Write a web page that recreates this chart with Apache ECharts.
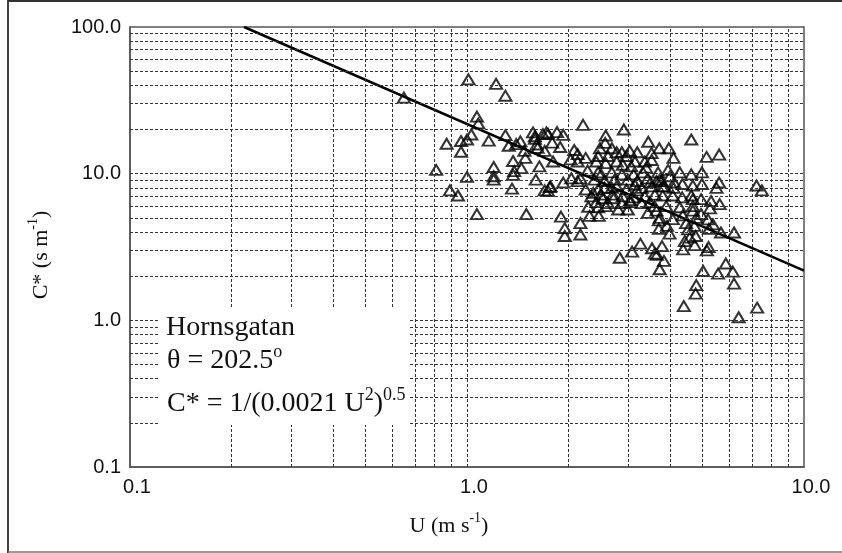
<!DOCTYPE html>
<html>
<head>
<meta charset="utf-8">
<script src="https://cdn.jsdelivr.net/npm/echarts@6/dist/echarts.min.js"></script>
<style>
html, body { margin: 0; padding: 0; background: #fff; }
#chart { width: 842px; height: 553px; }
</style>
</head>
<body>
<div id="chart"></div>
<script>
// wind speed U (m/s) and C* (s/m)
const windSpeed = [
  0.65, 1.01, 1.22, 1.30, 1.07, 1.08, 0.81, 0.87, 0.89, 0.94,
  0.96, 0.96, 1.00, 1.00, 1.03, 1.07, 1.16, 1.20, 1.20, 1.20,
  1.33, 1.40, 1.44, 1.48, 1.49, 1.57, 1.59, 1.68, 1.72, 1.62,
  1.70, 1.37, 1.38, 1.37, 1.45, 1.64, 1.60, 1.36, 1.70, 1.50,
  1.77, 1.30, 1.59, 1.61,
  2.21, 2.92, 1.74, 1.85, 1.93, 1.79, 1.89, 2.58, 2.57, 3.45,
  3.72, 2.48, 2.69, 2.78, 2.88, 2.08, 2.13, 2.25, 2.45, 2.62,
  2.97, 3.20, 3.53, 2.42, 2.58, 2.78, 2.90, 3.15, 3.37, 3.53,
  2.03, 2.13, 1.80, 2.28, 2.45, 2.69, 2.88, 3.12, 3.33, 3.69,
  2.17, 2.39, 2.56, 2.74, 3.00, 3.20, 3.44, 3.65, 1.93, 2.04,
  2.13, 1.76, 1.74, 2.25, 2.45, 2.69, 2.97, 3.15, 3.30, 3.53,
  3.80, 2.34, 2.53, 2.72, 2.90, 3.12, 3.37, 3.61, 2.42, 2.62,
  2.88, 3.05, 3.30, 3.49, 2.58, 2.81, 3.00, 3.44, 3.65,
  4.63, 3.97, 4.10, 5.14, 5.60, 4.00, 4.28, 4.63, 4.98, 3.73,
  5.60, 5.50, 7.23, 7.50, 3.85, 4.10, 4.36, 4.68, 4.98, 3.81,
  4.08, 4.35, 4.63, 4.95, 5.30, 5.62, 5.26, 3.90, 4.28, 4.68,
  4.95, 3.73, 4.08, 4.47, 4.73, 5.22,
  1.95, 1.95, 2.17, 2.17, 1.90, 2.31, 2.46, 2.84, 3.09, 3.27,
  3.54, 3.61, 3.66, 3.79, 3.84, 3.73, 3.71, 3.71, 3.99, 4.38,
  4.43, 4.53, 4.58, 4.77, 4.74, 5.15, 5.21, 5.02, 4.79, 4.77,
  4.40, 5.56, 5.86, 6.15, 6.20, 6.40, 7.26, 5.67, 6.20, 5.19,
  5.37,
  3.04, 2.50, 2.56, 2.78, 2.37, 2.50, 2.71, 3.05, 2.29, 2.45,
  3.07, 3.40, 3.95, 3.50, 3.78, 4.12, 3.19, 4.68, 3.60, 4.68,
  4.37, 4.79, 3.92
];
const cStar = [
  33, 44, 41, 34, 24.5, 22, 10.6, 16, 7.7, 7.1,
  16.7, 14.1, 17.1, 9.5, 18.5, 5.3, 16.8, 11.1, 9.6, 9.1,
  15.5, 15.9, 16.6, 14.3, 12.8, 19.1, 17.3, 18.6, 19.1, 15.0,
  14.3, 12.2, 10.4, 9.8, 10.9, 11.2, 9.1, 7.9, 7.7, 5.3,
  8.2, 18.3, 18.0, 15.8,
  21.5, 20.0, 18.7, 19.2, 18.4, 16.3, 15.2, 18.2, 16.2, 16.5,
  14.9, 14.9, 14.9, 14.0, 14.0, 14.5, 13.6, 12.8, 13.2, 13.2,
  13.2, 14.0, 13.8, 12.1, 11.8, 12.1, 11.5, 12.1, 12.1, 12.4,
  12.5, 12.1, 12.1, 10.5, 10.2, 10.2, 9.9, 9.9, 10.2, 10.2,
  9.3, 9.1, 8.9, 9.1, 9.1, 8.9, 9.3, 8.9, 8.7, 9.3,
  8.9, 8.1, 7.6, 7.8, 7.8, 8.0, 7.8, 8.4, 8.0, 8.2,
  8.2, 7.0, 6.8, 6.8, 7.0, 6.9, 7.0, 7.2, 6.4, 6.3,
  6.3, 6.4, 6.3, 6.4, 6.0, 5.7, 5.7, 5.4, 5.6,
  17.1, 14.9, 12.8, 13.0, 13.5, 9.6, 10.2, 9.9, 10.2, 9.1,
  8.7, 8.0, 8.3, 7.7, 8.2, 8.0, 8.5, 8.3, 8.5, 7.1,
  7.1, 6.9, 7.1, 6.7, 6.5, 6.2, 5.8, 6.0, 5.9, 5.6,
  5.3, 5.0, 4.9, 4.6, 4.4, 4.2,
  4.25, 3.76, 4.6, 3.85, 5.1, 5.15, 5.15, 2.67, 2.94, 3.33,
  3.10, 2.85, 2.80, 3.21, 2.54, 2.23, 4.8, 4.2, 3.90, 3.05,
  3.47, 4.17, 3.66, 3.76, 3.26, 3.0, 3.16, 2.17, 1.74, 1.52,
  1.25, 2.08, 2.44, 2.15, 1.78, 1.05, 1.22, 3.97, 3.97, 4.88,
  4.51,
  14.3, 9.9, 8.0, 8.2, 7.4, 7.2, 7.2, 6.6, 5.95, 5.9,
  11.2, 11.0, 10.6, 8.7, 8.9, 8.7, 7.7, 6.7, 6.0, 6.0,
  5.2, 5.0, 4.4
];
// fitted curve C* = 1/(0.0021 U^2)^0.5, end points where it meets the frame
const fitU = [0.218, 10];
const fitC = [100, 2.18];
// dotted grid positions
const xGridLines = [0.2, 0.3, 0.4, 0.5, 0.6, 0.7, 0.8, 0.9, 1, 2, 3, 4, 5, 6, 7, 8, 9];
const yGridLines = [0.2, 0.3, 0.4, 0.5, 0.6, 0.7, 0.8, 0.9, 1, 2, 3, 4, 5, 6, 7, 8, 9,
  10, 20, 30, 40, 50, 60, 70, 80, 90];

var chart = echarts.init(document.getElementById('chart'));

var serif = 'Liberation Serif';
var sans = 'Liberation Sans';

var nameRich = {
  a: { fontFamily: serif, fontSize: 22, color: '#111', lineHeight: 26, verticalAlign: 'bottom' },
  s: { fontFamily: serif, fontSize: 14, color: '#111', lineHeight: 14, verticalAlign: 'bottom', padding: [0, 0, 12, 0] }
};
var noteRich = {
  a: { fontFamily: serif, fontSize: 28, fill: '#111', lineHeight: 30, verticalAlign: 'bottom' },
  s: { fontFamily: serif, fontSize: 18, fill: '#111', lineHeight: 18, verticalAlign: 'bottom', padding: [0, 0, 14, 0] }
};

var option = {
  animation: false,
  backgroundColor: '#fff',
  grid: {
    left: 130, top: 27, right: 38, bottom: 86,
    show: true, borderColor: '#555', borderWidth: 1.5
  },
  xAxis: {
    type: 'log', logBase: 10, min: 0.1, max: 10,
    name: '{a|U (m s}{s|-1}{a|)}',
    nameLocation: 'middle', nameGap: 44,
    nameTextStyle: { padding: [0, 36, 0, 0], rich: nameRich },
    axisLine: { lineStyle: { color: '#555', width: 1.5 } },
    axisTick: { show: false },
    splitLine: { show: false },
    axisLabel: {
      fontFamily: sans, fontSize: 20, color: '#111', margin: 10,
      padding: [0, 0, 0, 14],
      formatter: function (v) { return Number(v).toFixed(1); }
    }
  },
  yAxis: {
    type: 'log', logBase: 10, min: 0.1, max: 100,
    name: '{a|C* (s m}{s|-1}{a|)}',
    nameLocation: 'middle', nameGap: 78,
    nameTextStyle: { padding: [0, 16, 0, 0], rich: nameRich },
    axisLine: { lineStyle: { color: '#555', width: 1.5 } },
    axisTick: { show: false },
    splitLine: { show: false },
    axisLabel: {
      fontFamily: sans, fontSize: 20, color: '#111', margin: 9,
      formatter: function (v) { return Number(v).toFixed(1); }
    }
  },
  graphic: [
    // outer figure frame (left, top, bottom)
    { type: 'line', z: 100, shape: { x1: 8, y1: 0, x2: 8, y2: 553 }, style: { stroke: '#444', lineWidth: 2 } },
    { type: 'line', z: 100, shape: { x1: 8, y1: 1, x2: 842, y2: 1 }, style: { stroke: '#333', lineWidth: 2 } },
    { type: 'line', z: 100, shape: { x1: 8, y1: 552, x2: 842, y2: 552 }, style: { stroke: '#777', lineWidth: 1.5 } },
    // annotation box
    { type: 'rect', z: 100, shape: { x: 158, y: 307, width: 252, height: 118 }, style: { fill: '#fff' } },
    {
      type: 'text', z: 101, x: 166, y: 328,
      style: { text: 'Hornsgatan', font: '28px ' + serif, fill: '#111', verticalAlign: 'middle' }
    },
    {
      type: 'text', z: 101, x: 167, y: 360,
      style: { text: '{a|θ = 202.5}{s|o}', verticalAlign: 'middle', rich: noteRich }
    },
    {
      type: 'text', z: 101, x: 167, y: 403,
      style: { text: '{a|C* = 1/(0.0021 U}{s|2}{a|)}{s|0.5}', verticalAlign: 'middle', rich: noteRich }
    }
  ],
  series: [
    {
      type: 'line', data: [], z: 1, silent: true,
      markLine: {
        silent: true, symbol: ['none', 'none'], label: { show: false },
        lineStyle: { color: '#333', type: [3, 2], width: 1 },
        data: xGridLines.map(function (v) { return { xAxis: v }; })
          .concat(yGridLines.map(function (v) { return { yAxis: v }; }))
      }
    },
    {
      type: 'scatter', z: 3,
      symbol: 'triangle', symbolSize: [12, 10],
      itemStyle: { color: 'rgba(255,255,255,0)', borderColor: '#000', borderWidth: 2 },
      data: windSpeed.map(function (u, i) { return [u, cStar[i]]; })
    },
    {
      type: 'line', z: 4, symbol: 'none',
      lineStyle: { color: '#000', width: 2.5 },
      data: fitU.map(function (u, i) { return [u, fitC[i]]; })
    }
  ]
};

chart.setOption(option);
</script>
</body>
</html>
